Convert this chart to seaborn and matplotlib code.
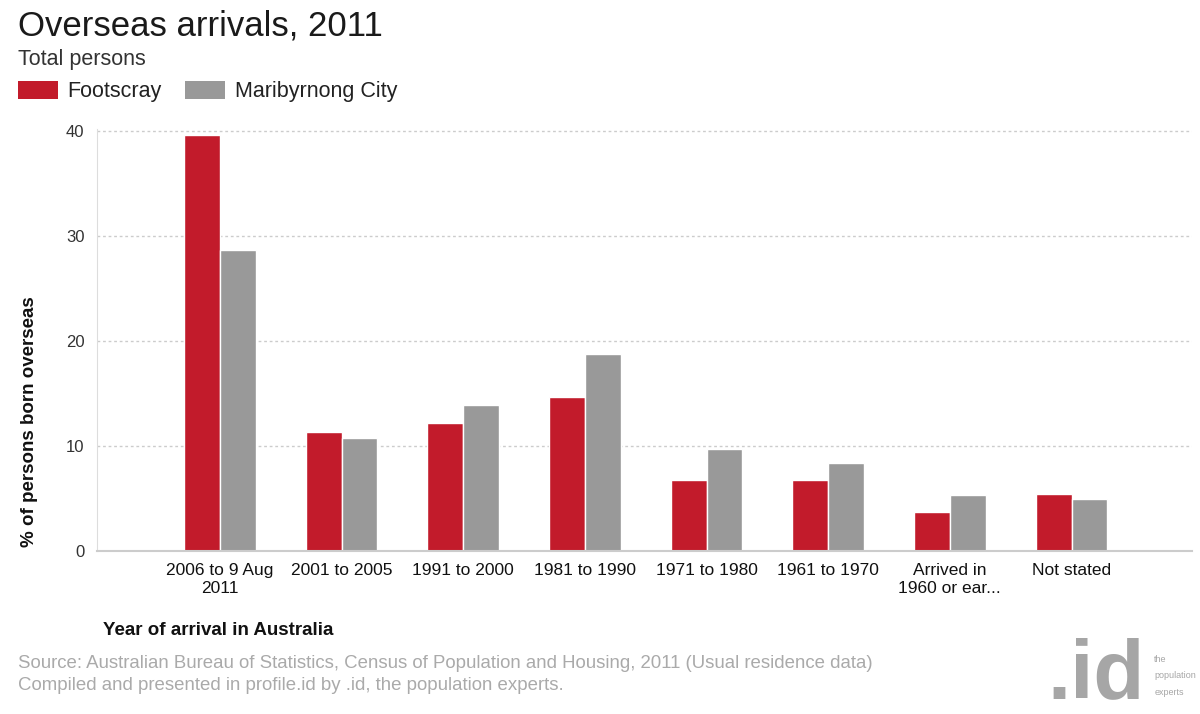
import pandas as pd
import matplotlib
matplotlib.use('Agg')
import matplotlib.pyplot as plt
import seaborn as sns
from matplotlib.patches import Patch

# data
categories = ['2006 to 9 Aug\n2011', '2001 to 2005', '1991 to 2000', '1981 to 1990',
              '1971 to 1980', '1961 to 1970', 'Arrived in\n1960 or ear...', 'Not stated']
footscray = [39.6, 11.3, 12.2, 14.7, 6.8, 6.8, 3.7, 5.4]
maribyrnong = [28.7, 10.8, 13.9, 18.8, 9.7, 8.4, 5.3, 5.0]
series = ['Footscray', 'Maribyrnong City']
colors = ['#C21B2B', '#999999']

df = pd.DataFrame({
    'Category': categories * 2,
    'Area': [series[0]] * len(categories) + [series[1]] * len(categories),
    'Value': footscray + maribyrnong,
})

sns.set_style('white')
plt.rcParams['font.family'] = ['Liberation Sans', 'DejaVu Sans']

fig = plt.figure(figsize=(12, 7.14), dpi=100)
ax = fig.add_axes([0.0808, 0.2283, 0.9125, 0.591])

sns.barplot(data=df, x='Category', y='Value', hue='Area', palette=colors,
            order=categories, hue_order=series, width=0.59, gap=0,
            saturation=1, legend=False, ax=ax)

ax.set_xlim(-1.01, 7.99)
ax.set_ylim(0, 40.2)
ax.set_yticks([0, 10, 20, 30, 40])
ax.yaxis.grid(True, linestyle=(0, (2, 2)), color='#cccccc', linewidth=1)
ax.set_axisbelow(True)
for s in ['top', 'right']:
    ax.spines[s].set_visible(False)
ax.spines['left'].set_color('#dddddd')
ax.spines['bottom'].set_color('#cccccc')
ax.spines['bottom'].set_linewidth(1.5)
ax.tick_params(axis='y', labelsize=12, colors='#333333', length=5, color='#cccccc', pad=4)
ax.tick_params(axis='x', labelsize=12.5, colors='#111111', length=0, pad=9)
ax.set_xlabel('')
ax.set_ylabel('')

# titles
fig.text(0.015, 0.950, 'Overseas arrivals, 2011', fontsize=25, color='#1a1a1a', va='baseline')
fig.text(0.015, 0.909, 'Total persons', fontsize=15.5, color='#333333', va='baseline')

handles = [Patch(facecolor=c, edgecolor='none') for c in colors]
fig.legend(handles, series, loc='upper left', bbox_to_anchor=(0.015, 0.886),
           ncol=2, frameon=False, fontsize=15.5, handlelength=1.85, handleheight=0.85,
           handletextpad=0.45, columnspacing=1.1, borderpad=0, borderaxespad=0,
           labelcolor='#222222')

fig.text(0.025, 0.41, '% of persons born overseas', rotation=90, fontsize=13.5,
         fontweight='bold', color='#111111', ha='center', va='center')
fig.text(0.086, 0.11, 'Year of arrival in Australia', fontsize=13.5,
         fontweight='bold', color='#111111', va='baseline')

fig.text(0.015, 0.065, 'Source: Australian Bureau of Statistics, Census of Population and Housing, 2011 (Usual residence data)',
         fontsize=13.4, color='#aaaaaa', va='baseline')
fig.text(0.015, 0.034, 'Compiled and presented in profile.id by .id, the population experts.',
         fontsize=13.4, color='#aaaaaa', va='baseline')

# logo
fig.text(0.873, 0.022, '.id', fontsize=60, fontweight='bold', color='#a6a6a6', va='baseline')
fig.text(0.962, 0.083, 'the\npopulation\nexperts', fontsize=6.5, color='#a6a6a6',
         va='top', linespacing=2.1)

fig.savefig('out.png', dpi=100)
